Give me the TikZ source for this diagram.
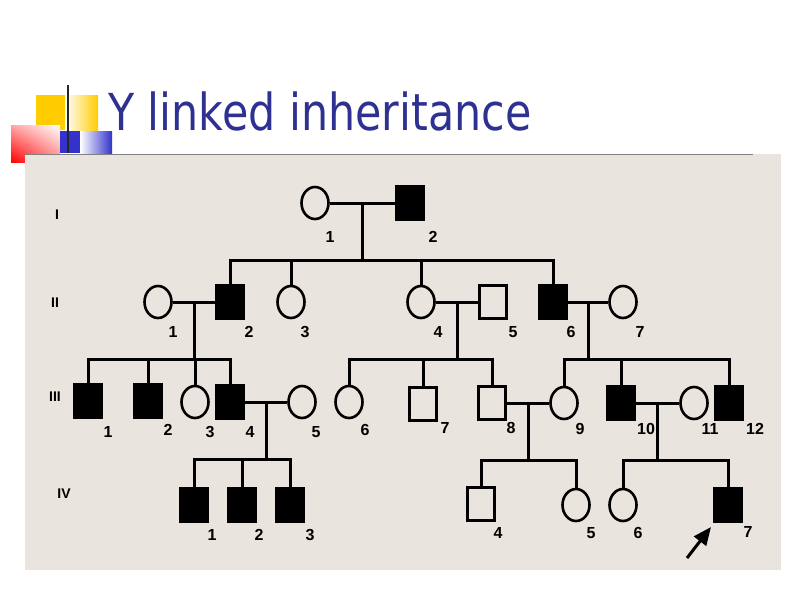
\documentclass[tikz,border=0pt]{standalone}
\usepackage{fontspec}
\setmainfont{Liberation Sans}
\newfontfamily\titlefont{DejaVu Sans}
\usepackage{graphicx}
\usetikzlibrary{arrows.meta,calc,shapes.geometric,shadings}
\definecolor{panel}{RGB}{233,228,221}
\definecolor{titleblue}{RGB}{46,49,146}
\definecolor{deckyellow}{RGB}{255,204,0}
\definecolor{deckblue}{RGB}{51,51,204}

\begin{document}
\begin{tikzpicture}[
  x=1pt, y=-1pt,
  >=Stealth,
  title/.style={font=\titlefont\fontsize{51}{60}\selectfont, text=titleblue, anchor=base west, inner sep=0pt},
  male/.style={rectangle, draw, line width=2.6pt, minimum width=27pt, minimum height=33pt, inner sep=0pt},
  affected/.style={male, fill=black},
  female/.style={ellipse, draw, line width=2.6pt, minimum width=27pt, minimum height=32pt, inner sep=0pt},
  link/.style={line width=3pt},
  lbl/.style={font=\bfseries\fontsize{16}{18}\selectfont, inner sep=0pt},
  gen/.style={font=\bfseries\fontsize{14}{16}\selectfont, inner sep=0pt}
]
\useasboundingbox (0,0) rectangle (794,595);
% slide decoration
\fill[deckyellow] (36,95) rectangle (65,130);
\shade[left color=white, right color=deckyellow] (65,95) rectangle (98,130);
\shade[upper left=red!35!white, upper right=white, lower left=red, lower right=red!45!white] (11,125) rectangle (60,162);
\fill[deckblue] (60,131) rectangle (80,153);
\shade[left color=white, right color=deckblue] (80,131) rectangle (112,153);
\draw[line width=1.5pt, black!85] (68,85) -- (68,153);
\fill[panel] (25,154) rectangle (781,570);
\draw[line width=1pt, gray] (25,154) -- (753,154);
\node[title] (title) at (108,130) {\scalebox{0.84}[1]{Y linked inheritance}};

% generations
\node[gen] (gI) at (57,215) {I};
\node[gen] (gII) at (55,303) {II};
\node[gen] (gIII) at (55,397) {III};
\node[gen] (gIV) at (64,494) {IV};

% generation I
\node[female] (I1) at (315,203) {};
\node[affected] (I2) at (410,203) {};
% generation II
\node[female] (II1) at (158,302) {};
\node[affected] (II2) at (230,302) {};
\node[female] (II3) at (291,302) {};
\node[female] (II4) at (421,302) {};
\node[male] (II5) at (493,302) {};
\node[affected] (II6) at (553,302) {};
\node[female] (II7) at (623,302) {};
% generation III
\node[affected] (III1) at (88,401) {};
\node[affected] (III2) at (148,401) {};
\node[female] (III3) at (195,402) {};
\node[affected] (III4) at (230,402) {};
\node[female] (III5) at (302,402) {};
\node[female] (III6) at (349,402) {};
\node[male] (III7) at (423,404) {};
\node[male] (III8) at (492,403) {};
\node[female] (III9) at (564,403) {};
\node[affected] (III10) at (621,403) {};
\node[female] (III11) at (694,403) {};
\node[affected] (III12) at (729,403) {};
% generation IV
\node[affected] (IV1) at (194,505) {};
\node[affected] (IV2) at (242,505) {};
\node[affected] (IV3) at (290,505) {};
\node[male] (IV4) at (481,504) {};
\node[female] (IV5) at (576,505) {};
\node[female] (IV6) at (623,505) {};
\node[affected] (IV7) at (728,505) {};

% numbers
\node[lbl] at (330,237) {1};
\node[lbl] at (433,237) {2};
\foreach \n/\px in {1/173,2/249,3/305,4/438,5/513,6/571,7/640}
  \node[lbl] at (\px,332) {\n};
\foreach \n/\px/\py in {1/108/432,2/168/430,3/210/432,4/250/432,5/316/432,6/365/430,
  7/445/428,8/511/428,9/580/429,10/646/429,11/710/429,12/755/429}
  \node[lbl] at (\px,\py) {\n};
\foreach \n/\px/\py in {1/212/535,2/259/535,3/310/535,4/498/533,5/591/533,6/638/533,7/748/532}
  \node[lbl] at (\px,\py) {\n};

% couples and their children
\foreach \a/\b/\kids in {I1/I2/{II2,II3,II4,II6},
  II1/II2/{III1,III2,III3,III4}, II4/II5/{III6,III7,III8}, II6/II7/{III9,III10,III12},
  III4/III5/{IV1,IV2,IV3}, III8/III9/{IV4,IV5}, III10/III11/{IV6,IV7}} {
  \draw[link] (\a) -- (\b);
  \coordinate (m) at ($(\a.east)!.5!(\b.west)$);
  \draw[link] (m) -- ++(0,57) coordinate (s);
  \foreach \k in \kids
    \draw[link] (s) -| (\k.north);
}

% proband
\coordinate (ptail) at (687,558);
\coordinate (ptip) at (711,527);
\draw[-{Triangle[length=18pt,width=15pt]}, line width=3pt] (ptail) -- (ptip);
\end{tikzpicture}
\end{document}
